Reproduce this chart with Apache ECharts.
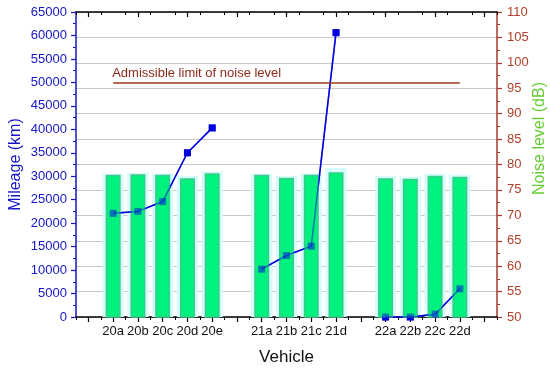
<!DOCTYPE html>
<html>
<head>
<meta charset="utf-8">
<script src="https://cdn.jsdelivr.net/npm/echarts@6/dist/echarts.min.js"></script>
<style>html,body{margin:0;padding:0;background:#fff}#c{width:550px;height:370px}</style>
</head>
<body>
<div id="c"></div>
<script>
var categories = ['', '20a', '20b', '20c', '20d', '20e', '', '21a', '21b', '21c', '21d', '', '22a', '22b', '22c', '22d', ''];
var mileage = [null, 22100, 22500, 24600, 35000, 40300, null, 10200, 13100, 15100, 60600, null, 0, 0, 600, 6000, null];
var noise = [null, 78, 78.1, 78, 77.3, 78.3, null, 78, 77.4, 78, 78.5, null, 77.3, 77.2, 77.8, 77.6, null];
var noiseHalo = [null, 78.2, 78.4, 78.3, 77.8, 78.6, null, 78.2, 77.8, 78.3, 79.3, null, 77.8, 77.6, 78.2, 78.0, null];
var limitValue = 96;
var limitText = 'Admissible limit of noise level';
var limitStart = '20a', limitEnd = '22d';

var FONT = 'Liberation Sans, Arial, sans-serif';
var BLUE = '#1414C8';
var RED = '#A83A2A';
var chart = echarts.init(document.getElementById('c'));

function catAxis(pos, opts) {
  return Object.assign({
    type: 'category', data: categories, position: pos, boundaryGap: true,
    axisLine: {show: false}, axisLabel: {show: false}, splitLine: {show: false},
    axisTick: {show: false}
  }, opts);
}

chart.setOption({
  animation: false,
  textStyle: {fontFamily: FONT},
  grid: {left: 76, right: 53, top: 12, bottom: 53, containLabel: false, outerBoundsMode: 'none'},
  xAxis: [
    catAxis('bottom', {
      axisLine: {show: true, lineStyle: {color: '#000', width: 1.5}},
      axisTick: {show: true, alignWithLabel: true, length: 5, lineStyle: {color: '#000', width: 1.2}},
      axisLabel: {show: true, interval: 0, color: '#111', fontSize: 13, fontFamily: FONT, margin: 8},
      name: 'Vehicle', nameLocation: 'middle', nameGap: 32, nameMoveOverlap: false,
      nameTextStyle: {color: '#111', fontSize: 17, fontFamily: FONT}
    }),
    catAxis('bottom', {
      axisTick: {show: true, interval: 0, length: 3, lineStyle: {color: '#000', width: 1}}
    }),
    catAxis('top', {
      axisLine: {show: true, lineStyle: {color: '#000', width: 1.5}},
      axisTick: {show: true, inside: true, alignWithLabel: true, length: 5, lineStyle: {color: '#000', width: 1.2}}
    }),
    catAxis('top', {
      axisTick: {show: true, inside: true, interval: 0, length: 3, lineStyle: {color: '#000', width: 1}}
    })
  ],
  yAxis: [
    {
      type: 'value', position: 'left', min: 0, max: 65000, interval: 5000,
      axisLine: {show: true, lineStyle: {color: BLUE, width: 1.5}},
      axisTick: {show: true, length: 5, lineStyle: {color: BLUE, width: 1.2}},
      minorTick: {show: true, splitNumber: 2, length: 3, lineStyle: {color: BLUE, width: 1}},
      axisLabel: {color: BLUE, fontSize: 13, fontFamily: FONT, margin: 9, formatter: function (v) { return String(v); }},
      splitLine: {show: false},
      name: 'Mileage (km)', nameLocation: 'middle', nameGap: 52, nameRotate: 90, nameMoveOverlap: false,
      nameTextStyle: {color: BLUE, fontSize: 16, fontFamily: FONT}
    },
    {
      type: 'value', position: 'right', min: 50, max: 110, interval: 5,
      axisLine: {show: true, lineStyle: {color: RED, width: 1.5}},
      axisTick: {show: true, length: 5, lineStyle: {color: RED, width: 1.2}},
      minorTick: {show: true, splitNumber: 2, length: 3, lineStyle: {color: RED, width: 1}},
      axisLabel: {color: '#B0402A', fontSize: 13, fontFamily: FONT, margin: 10},
      splitLine: {show: true, lineStyle: {color: '#C8C8C8', width: 1}},
      name: 'Noise level (dB)', nameLocation: 'middle', nameGap: 35, nameRotate: 90, nameMoveOverlap: false,
      nameTextStyle: {color: '#66CC33', fontSize: 16, fontFamily: FONT, padding: [0, 0, 0, 52]}
    }
  ],
  series: [
    {
      name: 'halo', type: 'bar', xAxisIndex: 1, yAxisIndex: 1, data: noiseHalo,
      barWidth: 21, z: 1, silent: true,
      itemStyle: {color: '#D4FCFC'}
    },
    {
      name: 'mileage', type: 'line', xAxisIndex: 0, yAxisIndex: 0, data: mileage,
      z: 2, symbol: 'rect', symbolSize: 7,
      lineStyle: {color: '#0000DD', width: 1.5},
      itemStyle: {color: '#0000DD'}
    },
    {
      name: 'noise', type: 'bar', xAxisIndex: 0, yAxisIndex: 1, data: noise,
      barWidth: 15, z: 3,
      itemStyle: {color: '#00F27E', borderColor: '#3CC98A', borderWidth: 1.5},
      markLine: {
        silent: true, symbol: 'none',
        lineStyle: {color: '#9B3A1E', width: 1.6, type: 'solid'},
        label: {show: true, position: 'insideStartTop', formatter: limitText,
          color: '#8B2A1A', fontSize: 13, fontFamily: FONT, distance: [-1, 3]},
        data: [[{coord: [limitStart, limitValue]}, {coord: [limitEnd, limitValue]}]]
      }
    },
    {
      name: 'mileage-overlay', type: 'line', xAxisIndex: 0, yAxisIndex: 0, data: mileage,
      z: 4, symbol: 'rect', symbolSize: 7, silent: true,
      lineStyle: {color: '#0000DD', width: 1.5, opacity: 0.5},
      itemStyle: {color: '#0000DD', opacity: 0.5}
    }
  ]
});
</script>
</body>
</html>
